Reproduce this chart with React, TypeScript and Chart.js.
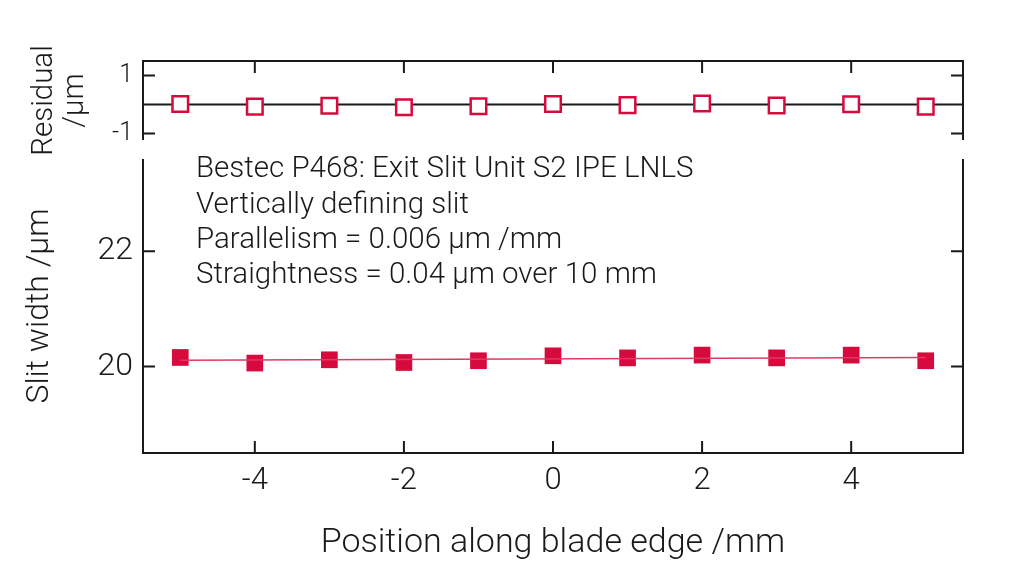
import React, { useEffect, useRef } from "react";
import { Chart, registerables } from "chart.js";

Chart.register(...registerables);

// ---- data ----
const positions = [-5, -4, -3, -2, -1, 0, 1, 2, 3, 4, 5];
const slitWidth = [20.157, 20.06, 20.117, 20.07, 20.1, 20.186, 20.15, 20.198, 20.15, 20.198, 20.1];
const residuals = [0.02, -0.07, -0.04, -0.09, -0.06, 0.02, -0.02, 0.04, -0.03, 0.01, -0.07];
const fitX = [-5, 5];
const fitY = [20.11, 20.157];
const xTicks = [-4, -2, 0, 2, 4];
const mainYTicks = [20, 22];
const resYTicks = [-1, 1];
const annotationLines = [
  "Bestec P468: Exit Slit Unit S2 IPE LNLS",
  "Vertically defining slit",
  "Parallelism = 0.006 µm /mm",
  "Straightness = 0.04 µm over 10 mm",
];
const xTitle = "Position along blade edge /mm";
const yTitle = "Slit width /µm";
const resTitle = ["Residual", "/µm"];

const RED = "#D70A3D";
const FIT_RED = "#DE3A62";
const INK = "#1a1a1a";
const FONT = "Roboto";
const W = 1024;
const H = 566;
const RES_H = 175;

function framePlugin(kind: "res" | "main") {
  return {
    id: "frame_" + kind,
    beforeDatasetsDraw(chart: any) {
      const { ctx, chartArea: a, scales } = chart;
      const xs = scales.x;
      const ys = scales.y;
      const tl = 12;
      ctx.save();
      ctx.strokeStyle = INK;
      ctx.lineWidth = 2;
      ctx.lineCap = "butt";
      ctx.beginPath();
      if (kind === "res") {
        ctx.moveTo(a.left, a.bottom);
        ctx.lineTo(a.left, a.top);
        ctx.lineTo(a.right, a.top);
        ctx.lineTo(a.right, a.bottom);
        for (const v of xTicks) {
          const px = xs.getPixelForValue(v);
          ctx.moveTo(px, a.top);
          ctx.lineTo(px, a.top + tl);
        }
        for (const v of resYTicks) {
          const py = ys.getPixelForValue(v);
          ctx.moveTo(a.left, py);
          ctx.lineTo(a.left + tl, py);
          ctx.moveTo(a.right, py);
          ctx.lineTo(a.right - tl, py);
        }
        const z = ys.getPixelForValue(0);
        ctx.moveTo(a.left, z);
        ctx.lineTo(a.right, z);
      } else {
        ctx.moveTo(a.left, a.top);
        ctx.lineTo(a.left, a.bottom);
        ctx.lineTo(a.right, a.bottom);
        ctx.lineTo(a.right, a.top);
        for (const v of xTicks) {
          const px = xs.getPixelForValue(v);
          ctx.moveTo(px, a.bottom);
          ctx.lineTo(px, a.bottom - tl);
        }
        for (const v of mainYTicks) {
          const py = ys.getPixelForValue(v);
          ctx.moveTo(a.left, py);
          ctx.lineTo(a.left + tl, py);
          ctx.moveTo(a.right, py);
          ctx.lineTo(a.right - tl, py);
        }
      }
      ctx.stroke();
      ctx.restore();
    },
    afterDraw(chart: any) {
      if (kind !== "main") return;
      const { ctx, chartArea: a } = chart;
      ctx.save();
      ctx.fillStyle = INK;
      ctx.font = `300 29.5px ${FONT}`;
      ctx.textAlign = "left";
      ctx.textBaseline = "middle";
      annotationLines.forEach((t, i) => {
        ctx.fillText(t, a.left + 53, a.top + 11 + i * 35.3);
      });
      ctx.restore();
    },
  };
}

const noEdgePadding = (s: any) => {
  s.paddingTop = 0;
  s.paddingBottom = 0;
  s.paddingLeft = 0;
  s.paddingRight = 0;
};

export default function App() {
  const resRef = useRef<HTMLCanvasElement | null>(null);
  const mainRef = useRef<HTMLCanvasElement | null>(null);

  useEffect(() => {
    document.body.style.margin = "0";

    const resChart = new Chart(resRef.current as HTMLCanvasElement, {
      type: "scatter",
      data: {
        datasets: [
          {
            data: positions.map((x, i) => ({ x, y: residuals[i] })),
            pointStyle: "rect",
            pointRadius: 11,
            backgroundColor: "#ffffff",
            borderColor: RED,
            borderWidth: 2.5,
            showLine: false,
          } as any,
        ],
      },
      options: {
        animation: false,
        responsive: false,
        maintainAspectRatio: false,
        layout: { autoPadding: false, padding: { left: 0, right: W - 963, top: 61, bottom: RES_H - 140 } },
        plugins: { legend: { display: false }, tooltip: { enabled: false } },
        scales: {
          x: { type: "linear", min: -5.5, max: 5.5, display: false },
          y: {
            type: "linear",
            min: -1.22,
            max: 1.5,
            afterFit: (s: any) => {
              s.width = 143;
              noEdgePadding(s);
            },
            afterBuildTicks: (s: any) => {
              s.ticks = resYTicks.map((v) => ({ value: v }));
            },
            grid: { display: false, drawTicks: false },
            border: { display: false },
            ticks: { color: INK, padding: 10, font: { family: FONT, size: 25, weight: "300" as any } },
            title: {
              display: true,
              text: resTitle,
              color: INK,
              font: { family: FONT, size: 29.5, weight: "300" as any, lineHeight: 1.05 },
              padding: { top: 29, bottom: 0 },
            },
          },
        },
      } as any,
      plugins: [framePlugin("res")],
    });

    const mainChart = new Chart(mainRef.current as HTMLCanvasElement, {
      type: "scatter",
      data: {
        datasets: [
          {
            data: fitX.map((x, i) => ({ x, y: fitY[i] })),
            showLine: true,
            borderColor: FIT_RED,
            borderWidth: 1.5,
            pointRadius: 0,
          } as any,
          {
            data: positions.map((x, i) => ({ x, y: slitWidth[i] })),
            pointStyle: "rect",
            pointRadius: 11.8,
            backgroundColor: RED,
            borderWidth: 0,
            showLine: false,
          } as any,
        ],
      },
      options: {
        animation: false,
        responsive: false,
        maintainAspectRatio: false,
        layout: { autoPadding: false, padding: { left: 0, right: W - 963, top: 159, bottom: 0 } },
        plugins: { legend: { display: false }, tooltip: { enabled: false } },
        scales: {
          x: {
            type: "linear",
            min: -5.5,
            max: 5.5,
            afterFit: (s: any) => {
              s.height = H - 453;
              noEdgePadding(s);
            },
            afterBuildTicks: (s: any) => {
              s.ticks = xTicks.map((v) => ({ value: v }));
            },
            grid: { display: false, drawTicks: false },
            border: { display: false },
            ticks: { color: INK, padding: 10, font: { family: FONT, size: 31, weight: "300" as any }, maxRotation: 0 },
            title: {
              display: true,
              text: xTitle,
              color: INK,
              font: { family: FONT, size: 34, weight: "300" as any, lineHeight: 1.2 },
              padding: { top: 0, bottom: 2 },
            },
          },
          y: {
            type: "linear",
            min: 18.5,
            max: 23.6,
            afterFit: (s: any) => {
              s.width = 143;
              noEdgePadding(s);
            },
            afterBuildTicks: (s: any) => {
              s.ticks = mainYTicks.map((v) => ({ value: v }));
            },
            grid: { display: false, drawTicks: false },
            border: { display: false },
            ticks: { color: INK, padding: 10, font: { family: FONT, size: 32, weight: "300" as any } },
            title: {
              display: true,
              text: yTitle,
              color: INK,
              font: { family: FONT, size: 32, weight: "300" as any, lineHeight: 1.2 },
              padding: { top: 21, bottom: 0 },
            },
          },
        },
      } as any,
      plugins: [framePlugin("main")],
    });

    return () => {
      resChart.destroy();
      mainChart.destroy();
    };
  }, []);

  return (
    <div style={{ position: "fixed", left: 0, top: 0, width: W, height: H, background: "#ffffff" }}>
      <canvas
        ref={mainRef}
        width={W}
        height={H}
        style={{ position: "absolute", left: 0, top: 0, width: W, height: H }}
      />
      <canvas
        ref={resRef}
        width={W}
        height={RES_H}
        style={{ position: "absolute", left: 0, top: 0, width: W, height: RES_H }}
      />
    </div>
  );
}
